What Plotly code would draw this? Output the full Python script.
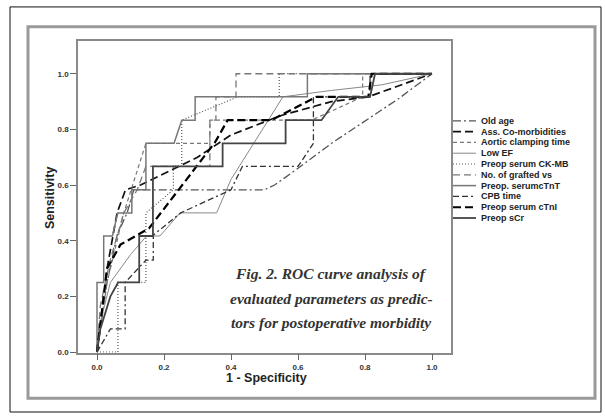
import plotly.graph_objects as go

W, H = 605, 417

# ---------------- data ----------------
labels = ["Old age", "Ass. Co-morbidities", "Aortic clamping time", "Low EF",
          "Preop serum CK-MB", "No. of grafted vs", "Preop. serumcTnT",
          "CPB time", "Preop serum cTnI", "Preop sCr"]

old_age_fpr = [0, 0.01, 0.03, 0.06, 0.09, 0.11, 0.50, 0.53, 0.60, 0.70, 0.80, 0.90, 1.0]
old_age_tpr = [0, 0.083, 0.25, 0.42, 0.5, 0.583, 0.583, 0.60, 0.66, 0.75, 0.83, 0.91, 1.0]

comorb_fpr = [0, 0.01, 0.03, 0.06, 0.085, 0.13, 0.2, 0.3, 0.4, 0.55, 0.7, 0.81, 1.0]
comorb_tpr = [0, 0.1, 0.3, 0.5, 0.583, 0.6, 0.64, 0.7, 0.78, 0.85, 0.9, 0.917, 1.0]

aortic_fpr = [0, 0.01, 0.03, 0.08, 0.146, 0.337, 0.337, 0.64, 0.793, 0.793, 1.0]
aortic_tpr = [0, 0.083, 0.25, 0.5, 0.75, 0.75, 0.833, 0.833, 0.917, 1.0, 1.0]

lowef_fpr = [0, 0.005, 0.04, 0.10, 0.148, 0.188, 0.248, 0.357, 0.40, 0.555, 0.70, 0.85, 1.0]
lowef_tpr = [0, 0.083, 0.25, 0.35, 0.417, 0.417, 0.5, 0.5, 0.62, 0.917, 0.94, 0.96, 1.0]

ckmb_fpr = [0, 0.0625, 0.0625, 0.146, 0.146, 0.228, 0.228, 0.253, 0.253, 0.42, 0.544, 0.544, 1.0]
ckmb_tpr = [0, 0, 0.25, 0.25, 0.5, 0.583, 0.667, 0.667, 0.833, 0.917, 0.917, 1.0, 1.0]

grafted_fpr = [0, 0.01, 0.04, 0.08, 0.12, 0.146, 0.337, 0.337, 0.355, 0.355, 0.415, 0.415, 1.0]
grafted_tpr = [0, 0.167, 0.333, 0.5, 0.583, 0.667, 0.667, 0.833, 0.833, 0.917, 0.917, 1.0, 1.0]

tnt_fpr = [0, 0, 0.02, 0.02, 0.046, 0.062, 0.104, 0.104, 0.146, 0.146, 0.23, 0.253, 0.293, 0.293, 0.628, 0.628, 1.0]
tnt_tpr = [0, 0.25, 0.25, 0.417, 0.417, 0.5, 0.5, 0.583, 0.583, 0.75, 0.75, 0.833, 0.833, 0.917, 0.917, 1.0, 1.0]

cpb_fpr = [0, 0.04, 0.084, 0.084, 0.146, 0.168, 0.168, 0.25, 0.40, 0.434, 0.60, 0.646, 0.646, 0.815, 0.815, 1.0]
cpb_tpr = [0, 0.083, 0.083, 0.25, 0.33, 0.33, 0.42, 0.5, 0.583, 0.667, 0.667, 0.75, 0.917, 0.917, 1.0, 1.0]

ctni_fpr = [0, 0.01, 0.03, 0.07, 0.155, 0.352, 0.39, 0.52, 0.655, 0.81, 0.82, 1.0]
ctni_tpr = [0, 0.1, 0.3, 0.386, 0.444, 0.753, 0.833, 0.833, 0.917, 0.917, 1.0, 1.0]

scr_fpr = [0, 0.01, 0.04, 0.063, 0.126, 0.126, 0.167, 0.167, 0.375, 0.375, 0.563, 0.563, 0.67, 0.72, 0.815, 0.83, 1.0]
scr_tpr = [0, 0.083, 0.2, 0.25, 0.25, 0.417, 0.417, 0.667, 0.667, 0.75, 0.75, 0.833, 0.833, 0.917, 0.917, 1.0, 1.0]

x_ticks = [0.0, 0.2, 0.4, 0.6, 0.8, 1.0]
y_ticks = [0.0, 0.2, 0.4, 0.6, 0.8, 1.0]
caption_lines = ["Fig. 2. ROC curve analysis of",
                 "evaluated parameters as predic-",
                 "tors for postoperative morbidity"]

# ---------------- styles ----------------
series = [
    (old_age_fpr, old_age_tpr, "#555555", 1.3, "8px,3px,2px,3px"),
    (comorb_fpr, comorb_tpr, "#111111", 1.7, "8px,4px"),
    (aortic_fpr, aortic_tpr, "#777777", 1.2, "4px,3px"),
    (lowef_fpr, lowef_tpr, "#888888", 1.0, "solid"),
    (ckmb_fpr, ckmb_tpr, "#555555", 1.2, "1px,2px"),
    (grafted_fpr, grafted_tpr, "#777777", 1.3, "7px,4px"),
    (tnt_fpr, tnt_tpr, "#777777", 1.5, "solid"),
    (cpb_fpr, cpb_tpr, "#333333", 1.3, "6px,3px,6px,3px,2px,3px"),
    (ctni_fpr, ctni_tpr, "#000000", 2.2, "8px,4px"),
    (scr_fpr, scr_tpr, "#444444", 1.8, "solid"),
]

fig = go.Figure()
for (fx, ty, col, wd, dash), name in zip(series, labels):
    fig.add_trace(go.Scatter(x=fx, y=ty, mode="lines", name=name,
                             line=dict(color=col, width=wd, dash=dash),
                             showlegend=False, hoverinfo="skip"))

def px(x):
    return x / W

def py(y):
    return 1 - y / H

shapes = [
    dict(type="rect", xref="paper", yref="paper", x0=px(10), x1=px(601), y0=py(416), y1=py(7),
         line=dict(color="#111111", width=1)),
    dict(type="rect", xref="paper", yref="paper", x0=px(28), x1=px(595), y0=py(402), y1=py(27),
         line=dict(color="#9a9a9a", width=3)),
]

annotations = []
# legend drawn manually (compact spacing)
for i, ((fx, ty, col, wd, dash), name) in enumerate(zip(series, labels)):
    yy = 122 + 10.9 * i
    shapes.append(dict(type="line", xref="paper", yref="paper", x0=px(453), x1=px(476),
                       y0=py(yy), y1=py(yy), line=dict(color=col, width=min(wd, 2.0), dash=dash)))
    annotations.append(dict(xref="paper", yref="paper", x=px(479), y=py(yy), text=name,
                            showarrow=False, xanchor="left", yanchor="middle",
                            font=dict(family="Arial", size=9, color="#222222", weight="bold")))

# caption
for j, line in enumerate(caption_lines):
    annotations.append(dict(xref="paper", yref="paper", x=px(331), y=py(276 + 25 * j), text=line,
                            showarrow=False, xanchor="center", yanchor="middle",
                            font=dict(family="Liberation Serif", size=15.5, color="#333333",
                                      style="italic", weight="bold")))

# axis titles
annotations.append(dict(xref="paper", yref="paper", x=px(50), y=py(200), text="Sensitivity",
                        showarrow=False, textangle=-90, xanchor="center", yanchor="middle",
                        font=dict(family="Arial", size=12.5, color="#222222", weight="bold")))
annotations.append(dict(xref="paper", yref="paper", x=px(266), y=py(382), text="1 - Specificity",
                        showarrow=False, xanchor="center", yanchor="middle",
                        font=dict(family="Arial", size=12.5, color="#222222", weight="bold")))

axis_common = dict(showgrid=False, zeroline=False, showline=True, linecolor="#8a8a8a",
                   linewidth=1.5, mirror=True, ticks="outside", ticklen=6, tickcolor="#666666",
                   tickwidth=1, tickformat=".1f",
                   tickfont=dict(family="Arial", size=8, color="#333333", weight="bold"))

fig.update_layout(
    width=W, height=H, margin=dict(l=0, r=0, t=0, b=0),
    paper_bgcolor="white", plot_bgcolor="white",
    xaxis=dict(domain=[78 / W, 451 / W], range=[-0.0567, 1.0567], tickvals=x_ticks, **axis_common),
    yaxis=dict(domain=[1 - 356 / H, 1 - 41 / H], range=[-0.002, 1.119], tickvals=y_ticks, **axis_common),
    shapes=shapes, annotations=annotations, showlegend=False,
)

fig.write_html("out.html")
